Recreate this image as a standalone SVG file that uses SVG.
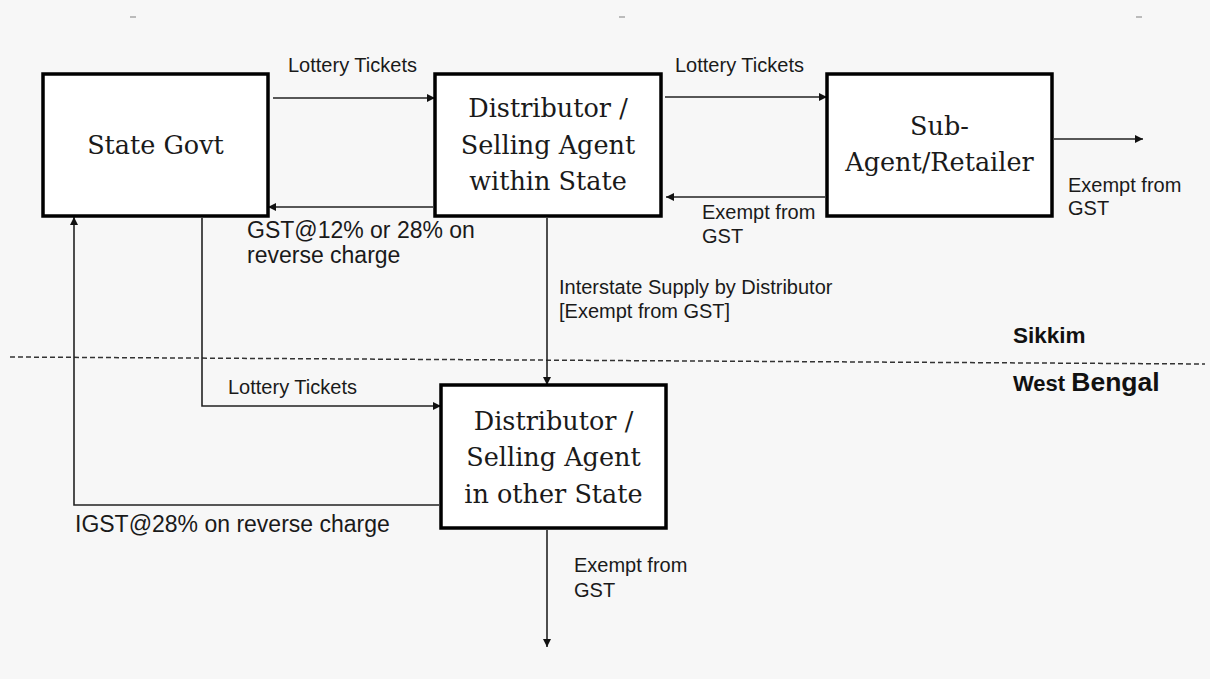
<svg xmlns="http://www.w3.org/2000/svg" width="1210" height="679" viewBox="0 0 1210 679">
  <style>
    .box { fill: #ffffff; stroke: #000000; stroke-width: 3.5; }
    .node { font-family: "DejaVu Serif", "Liberation Serif", serif; font-size: 25.5px; fill: #1a1a1a; text-anchor: middle; }
    .lbl { font-family: "Liberation Sans", Arial, sans-serif; font-size: 20px; fill: #1a1a1a; }
    .lbl-lg { font-family: "Liberation Sans", Arial, sans-serif; font-size: 23px; fill: #1a1a1a; }
    .region { font-family: "Liberation Sans", Arial, sans-serif; font-weight: bold; fill: #111111; }
    .conn { fill: none; stroke: #222222; stroke-width: 1.6; }
    .border { fill: none; stroke: #333333; stroke-width: 1.5; stroke-dasharray: 5 3; }
    .tick { fill: none; stroke: #a8a8a8; stroke-width: 1.5; }
  </style>
  <defs>
    <marker id="arrow" viewBox="0 0 10 10" refX="10" refY="5" markerWidth="9" markerHeight="8" markerUnits="userSpaceOnUse" orient="auto">
      <path d="M0,0 L10,5 L0,10 z" fill="#111111"/>
    </marker>
  </defs>

  <!-- page background -->
  <rect x="0" y="0" width="1210" height="679" fill="#f7f7f7"/>

  <!-- small marks along the top edge -->
  <path class="tick" d="M130,17 h6 M619,17 h6 M1136,17 h6"/>

  <!-- state boundary -->
  <path class="border" d="M10,357 L1205,364"/>
  <text class="region" x="1013" y="343" font-size="22.5">Sikkim</text>
  <text class="region" x="1013" y="391"><tspan font-size="22">West </tspan><tspan font-size="26.5">Bengal</tspan></text>

  <!-- connectors -->
  <g id="connectors">
    <path class="conn" d="M273,98 L435,98" marker-end="url(#arrow)"/>
    <path class="conn" d="M665,97 L827,97" marker-end="url(#arrow)"/>
    <path class="conn" d="M433,207 L268,207" marker-end="url(#arrow)"/>
    <path class="conn" d="M825,197 L666,197" marker-end="url(#arrow)"/>
    <path class="conn" d="M1054,139 L1143,139" marker-end="url(#arrow)"/>
    <path class="conn" d="M547,218 L547,385" marker-end="url(#arrow)"/>
    <path class="conn" d="M202,218 L202,406 L441,406" marker-end="url(#arrow)"/>
    <path class="conn" d="M439,505 L74,505 L74,217" marker-end="url(#arrow)"/>
    <path class="conn" d="M547,530 L547,647" marker-end="url(#arrow)"/>

    <text class="lbl" x="288" y="72">Lottery Tickets</text>
    <text class="lbl" x="675" y="72">Lottery Tickets</text>
    <text class="lbl-lg" x="247" y="238">GST@12% or 28% on</text>
    <text class="lbl-lg" x="247" y="263">reverse charge</text>
    <text class="lbl" x="702" y="219">Exempt from</text>
    <text class="lbl" x="702" y="243">GST</text>
    <text class="lbl" x="1068" y="192">Exempt from</text>
    <text class="lbl" x="1068" y="215">GST</text>
    <text class="lbl" x="559" y="294">Interstate Supply by Distributor</text>
    <text class="lbl" x="559" y="318">[Exempt from GST]</text>
    <text class="lbl" x="228" y="394">Lottery Tickets</text>
    <text class="lbl-lg" x="75" y="532">IGST@28% on reverse charge</text>
    <text class="lbl" x="574" y="572">Exempt from</text>
    <text class="lbl" x="574" y="597">GST</text>
  </g>

  <!-- nodes -->
  <g id="state-govt">
    <rect class="box" x="43" y="74" width="225" height="142"/>
    <text class="node" x="155.5" y="154">State Govt</text>
  </g>

  <g id="distributor-within">
    <rect class="box" x="435" y="74" width="226" height="142"/>
    <text class="node" x="548" y="117">Distributor /</text>
    <text class="node" x="548" y="154">Selling Agent</text>
    <text class="node" x="548" y="190">within State</text>
  </g>

  <g id="sub-agent">
    <rect class="box" x="827" y="74" width="225" height="142"/>
    <text class="node" x="939.5" y="135">Sub-</text>
    <text class="node" x="939.5" y="171">Agent/Retailer</text>
  </g>

  <g id="distributor-other">
    <rect class="box" x="441" y="385" width="225" height="143"/>
    <text class="node" x="553.5" y="430">Distributor /</text>
    <text class="node" x="553.5" y="466">Selling Agent</text>
    <text class="node" x="553.5" y="503">in other State</text>
  </g>
</svg>
